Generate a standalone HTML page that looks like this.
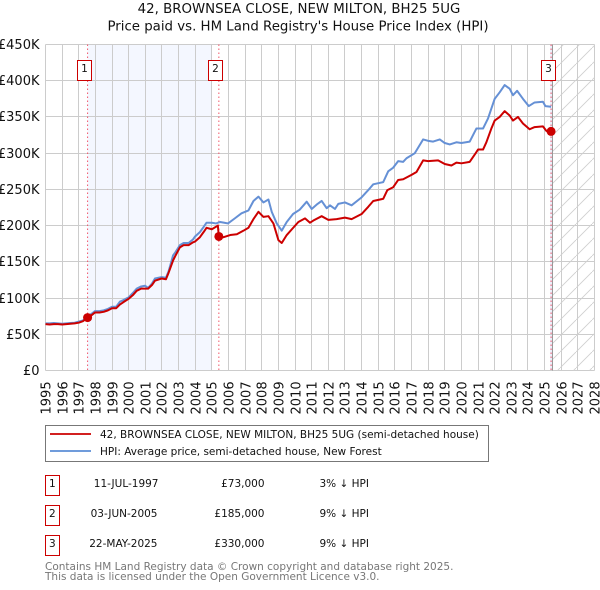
<!DOCTYPE html>
<html lang="en">
<head>
<meta charset="utf-8">
<title>42, BROWNSEA CLOSE, NEW MILTON, BH25 5UG</title>
<style>
html,body{margin:0;padding:0;background:#fff;}
svg{display:block;}
text{font-family:"DejaVu Sans","Liberation Sans",sans-serif;fill:#111;}
</style>
</head>
<body>
<svg id="chart" xmlns="http://www.w3.org/2000/svg" width="600" height="590" viewBox="0 0 600 590">
  <defs>
    <pattern id="hatch" patternUnits="userSpaceOnUse" width="16" height="16">
      <path d="M-1 17 L17 -1" stroke="#cfcfcf" stroke-width="0.9" fill="none"/>
    </pattern>
  </defs>
  <text x="299" y="13" font-size="13.33" text-anchor="middle">42, BROWNSEA CLOSE, NEW MILTON, BH25 5UG</text>
  <text x="298" y="30.5" font-size="13.33" text-anchor="middle">Price paid vs. HM Land Registry's House Price Index (HPI)</text>
  <g id="plot"></g>

  <g>
    <rect x="45.5" y="425.5" width="443" height="36" fill="#fff" stroke="#777" stroke-width="1"/>
    <line x1="50" x2="91" y1="434" y2="434" stroke="#cc0000" stroke-width="1.8"/>
    <text x="100" y="438" font-size="10.5">42, BROWNSEA CLOSE, NEW MILTON, BH25 5UG (semi-detached house)</text>
    <line x1="50" x2="91" y1="451" y2="451" stroke="#5b8ed6" stroke-width="1.8"/>
    <text x="100" y="455" font-size="10.5">HPI: Average price, semi-detached house, New Forest</text>
  </g>

  <g font-size="10.5">
    <g>
      <rect x="45.5" y="475.5" width="14" height="20" fill="#fff" stroke="#cc0000" stroke-width="1"/>
      <text x="52.3" y="487" text-anchor="middle">1</text>
      <text x="158.5" y="487" text-anchor="end">11-JUL-1997</text>
      <text x="264.5" y="487" text-anchor="end">£73,000</text>
      <text x="319.5" y="487">3% ↓ HPI</text>
    </g>
    <g>
      <rect x="45.5" y="505.5" width="14" height="20" fill="#fff" stroke="#cc0000" stroke-width="1"/>
      <text x="52.3" y="517" text-anchor="middle">2</text>
      <text x="157.5" y="517" text-anchor="end">03-JUN-2005</text>
      <text x="264.5" y="517" text-anchor="end">£185,000</text>
      <text x="319.5" y="517">9% ↓ HPI</text>
    </g>
    <g>
      <rect x="45.5" y="535.5" width="14" height="20" fill="#fff" stroke="#cc0000" stroke-width="1"/>
      <text x="52.3" y="547" text-anchor="middle">3</text>
      <text x="157.5" y="547" text-anchor="end">22-MAY-2025</text>
      <text x="264.5" y="547" text-anchor="end">£330,000</text>
      <text x="319.5" y="547">9% ↓ HPI</text>
    </g>
  </g>
  <text x="45" y="570" font-size="10.5" style="fill:#777">Contains HM Land Registry data © Crown copyright and database right 2025.</text>
  <text x="45" y="580" font-size="10.5" style="fill:#777">This data is licensed under the Open Government Licence v3.0.</text>
</svg>
<script>
const yearTicks = [1995,1996,1997,1998,1999,2000,2001,2002,2003,2004,2005,2006,2007,2008,2009,2010,2011,2012,2013,2014,2015,2016,2017,2018,2019,2020,2021,2022,2023,2024,2025,2026,2027,2028];
const priceTicks = [0,50,100,150,200,250,300,350,400,450];
const priceTickLabels = ['£0','£50K','£100K','£150K','£200K','£250K','£300K','£350K','£400K','£450K'];

const hpiDates = [1995,1995.25,1995.5,1995.75,1996,1996.25,1996.5,1996.75,1997,1997.25,1997.5,1997.75,1997.97,1998.25,1998.5,1998.75,1999,1999.25,1999.47,1999.66,2000,2000.25,2000.48,2000.75,2000.98,2001.17,2001.4,2001.58,2001.98,2002.24,2002.4,2002.67,2002.8,2003.08,2003.3,2003.6,2003.87,2003.99,2004.28,2004.5,2004.68,2005,2005.25,2005.5,2005.75,2005.97,2006.38,2006.78,2007.2,2007.5,2007.8,2008.1,2008.4,2008.6,2008.9,2009.2,2009.5,2009.88,2010.28,2010.7,2011,2011.3,2011.6,2011.9,2012.1,2012.4,2012.6,2013,2013.4,2014,2014.4,2014.7,2015.3,2015.6,2015.9,2016.2,2016.5,2016.7,2017.2,2017.7,2018,2018.3,2018.7,2019,2019.3,2019.7,2020,2020.5,2020.7,2020.9,2021.3,2021.6,2022,2022.3,2022.6,2022.9,2023.1,2023.35,2023.7,2024.05,2024.4,2024.9,2025.05,2025.39];
const hpiValues = [65,65,65.5,65,64.5,65,65.5,66,67.5,69,75,78,82,82,83,85,88,88,95,97,101,107,113,116,117,114,120,127,129,128,137,159,163,173,176,176,181,185,191,198,204,204,203,205,204,203,210,217,221,234,240,232,236,219,203,193,205,216,222,233,223,229,234,224,228,223,230,232,228,239,249,257,260,275,280,289,288,293,300,319,317,316,319,314,312,315,314,316,325,334,334,348,375,384,394,389,380,386,375,365,370,371,365,364];

const priceDates = [1995,1995.25,1995.5,1995.75,1996,1996.25,1996.5,1996.75,1997,1997.25,1997.53,1997.75,1997.97,1998.25,1998.5,1998.75,1999,1999.25,1999.47,1999.66,2000,2000.25,2000.48,2000.75,2000.98,2001.17,2001.4,2001.58,2001.98,2002.24,2002.4,2002.67,2002.8,2003.08,2003.3,2003.6,2003.87,2003.99,2004.28,2004.5,2004.68,2005,2005.36,2005.42,2005.7,2006.1,2006.5,2006.9,2007.2,2007.5,2007.8,2008.1,2008.4,2008.7,2009,2009.2,2009.5,2009.85,2010.2,2010.6,2010.9,2011.1,2011.6,2012,2012.5,2013,2013.4,2014,2014.4,2014.7,2015.3,2015.55,2015.9,2016.2,2016.5,2017,2017.3,2017.7,2018,2018.6,2019,2019.4,2019.7,2020,2020.5,2020.8,2021,2021.3,2021.5,2021.8,2022,2022.3,2022.6,2022.9,2023.1,2023.4,2023.7,2024.1,2024.4,2024.9,2025.1,2025.39];
const priceValues = [64,63.5,64,64,63.5,64,64.5,65,66,68,73,76,80,80,81,83,86,86,91,94,99,104,110,113,113,113,118,124,127,126,135,152,158,170,173,173,177,178,184,191,197,195,200,185,184,187,188,193,197,209,219,212,213,203,180,176,187,196,205,210,204,207,213,208,209,211,209,216,226,234,237,249,253,263,264,270,274,290,289,290,285,283,287,286,288,298,305,305,315,334,345,350,358,352,345,350,341,333,336,337,331,327];

const saleDates = [1997.53,2005.42,2025.39];
const salePrices = [73,185,330];
const saleNumbers = ['1','2','3'];

const NS = 'http://www.w3.org/2000/svg';
const plot = document.getElementById('plot');
const LEFT = 45.5, RIGHT = 594.5, TOP = 44.5, BOTTOM = 370.5;
const X0 = 1995, X1 = 2028, Y0 = 0, Y1 = 450;
function xScale(year){ return LEFT + (year - X0) / (X1 - X0) * (RIGHT - LEFT); }
function yScale(v){ return BOTTOM - (v - Y0) / (Y1 - Y0) * (BOTTOM - TOP); }
function snap(p){ return Math.floor(p) + 0.5; }
function make(tag, attrs, parent){
  const el = document.createElementNS(NS, tag);
  for (const k in attrs) el.setAttribute(k, attrs[k]);
  (parent || plot).appendChild(el);
  return el;
}
function pathFrom(xs, ys){
  return xs.map(function(d, i){ return (i ? 'L' : 'M') + xScale(d).toFixed(2) + ' ' + yScale(ys[i]).toFixed(2); }).join(' ');
}

// Shaded bands
const bandStart = make('rect', {x: xScale(saleDates[0]), y: TOP, width: xScale(2005) - xScale(saleDates[0]), height: BOTTOM - TOP, fill: '#f4f7ff'});


const bandEnd = make('rect', {x: xScale(saleDates[2]) - 1, y: TOP, width: 2, height: BOTTOM - TOP, fill: '#eaf0fb'});



// Grid
yearTicks.forEach(function(y){
  const gx = snap(xScale(y));
  const line = make('line', {x1: gx, x2: gx, y1: TOP, y2: BOTTOM, stroke: '#cccccc', 'stroke-width': 1});
  
  
  const label = make('text', {transform: 'translate(' + (gx + 5) + ' 414.5) rotate(-90)', 'font-size': 13});
  label.textContent = String(y);
  
  
});
priceTicks.forEach(function(v, i){
  const gy = snap(yScale(v));
  const line = make('line', {x1: LEFT, x2: RIGHT, y1: gy, y2: gy, stroke: '#cccccc', 'stroke-width': 1});
  
  
  const label = make('text', {x: 39.5, y: gy + 4.5, 'font-size': 13, 'text-anchor': 'end'});
  label.textContent = priceTickLabels[i];
  
  
});

// Forecast hatch
const hatchStart = 552.5;
const hatch = make('rect', {x: hatchStart, y: TOP, width: RIGHT - hatchStart, height: BOTTOM - TOP, fill: 'url(#hatch)'});


const nowLine = make('line', {x1: hatchStart, x2: hatchStart, y1: TOP, y2: BOTTOM, stroke: '#999999', 'stroke-width': 1});



// Sale verticals
saleDates.forEach(function(d){
  const sx = xScale(d);
  const line = make('line', {x1: sx, x2: sx, y1: TOP, y2: BOTTOM, stroke: '#f0566a', 'stroke-width': 1, 'stroke-dasharray': '1.5 2.5'});
  
  
});

// Series
const hpiLine = make('path', {d: pathFrom(hpiDates, hpiValues), fill: 'none', stroke: '#6590d5', 'stroke-width': 2, 'stroke-linejoin': 'round'});


const priceLine = make('path', {d: pathFrom(priceDates, priceValues), fill: 'none', stroke: '#cc0000', 'stroke-width': 2, 'stroke-linejoin': 'round'});



// Sale markers and badges
saleDates.forEach(function(d, i){
  const dot = make('circle', {cx: xScale(d), cy: yScale(salePrices[i]), r: 4.5, fill: '#cc0000'});
  
  
  const bx = Math.floor(xScale(d)) - 10 + 0.5;
  const box = make('rect', {x: bx, y: 60.5, width: 14, height: 20, fill: '#fff', stroke: '#cc0000', 'stroke-width': 1});
  
  
  const num = make('text', {x: bx + 7, y: 72, 'font-size': 10.5, 'text-anchor': 'middle'});
  num.textContent = saleNumbers[i];
  
  
});
</script>
</body>
</html>
